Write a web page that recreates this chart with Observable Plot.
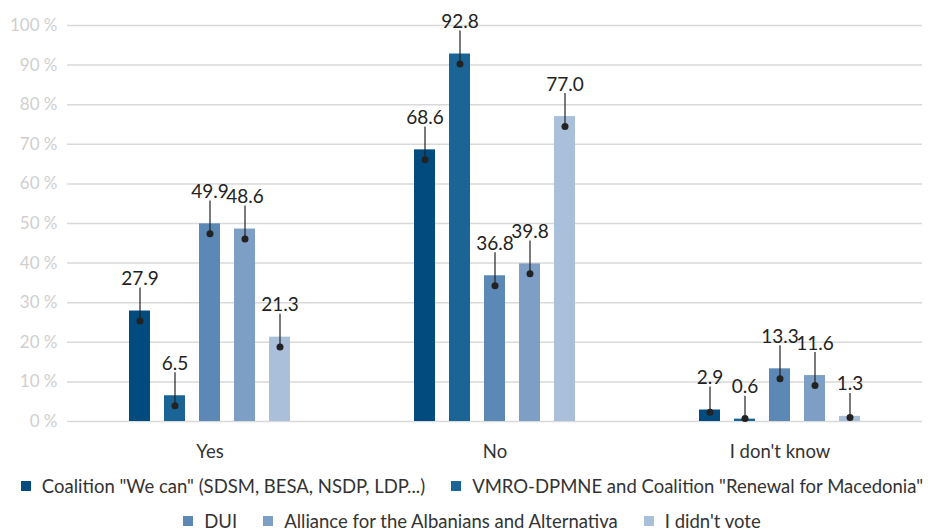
<!DOCTYPE html>
<html>
<head>
<meta charset="utf-8">
<script src="https://cdn.jsdelivr.net/npm/d3@7"></script>
<script src="https://cdn.jsdelivr.net/npm/@observablehq/plot@0.6"></script>
<style>
  html, body { margin: 0; padding: 0; background: #fff; }
  body { width: 944px; font-family: Lato, "Open Sans", sans-serif; }
  #legend { width: 944px; font-family: Lato, sans-serif; font-size: 18.5px; color: #333; }
  .row { display: flex; justify-content: center; align-items: center; height: 35px; }
  .item { display: flex; align-items: center; margin: 0 13px; white-space: nowrap; }
  .sw { width: 10px; height: 10px; margin-right: 11px; }
</style>
</head>
<body>
<div id="chart"></div>
<div id="legend"></div>
<script>
const categories = ["Yes", "No", "I don't know"];
const seriesNames = [
  "Coalition \"We can\" (SDSM, BESA, NSDP, LDP...)",
  "VMRO-DPMNE and Coalition \"Renewal for Macedonia\"",
  "DUI",
  "Alliance for the Albanians and Alternativa",
  "I didn't vote"
];
const yesValues = [27.9, 6.5, 49.9, 48.6, 21.3];
const noValues = [68.6, 92.8, 36.8, 39.8, 77.0];
const dontKnowValues = [2.9, 0.6, 13.3, 11.6, 1.3];
const colors = ["#024b7e", "#1b6596", "#5b88b4", "#7e9fc5", "#a9bfda"];
const yTicks = [0, 10, 20, 30, 40, 50, 60, 70, 80, 90, 100];
const legendRows = [[0, 1], [2, 3, 4]];

const valuesByCat = [yesValues, noValues, dontKnowValues];
const data = [];
categories.forEach((cat, i) => {
  valuesByCat[i].forEach((v, j) => {
    data.push({
      cat, series: seriesNames[j], value: v,
      dot: v > 4 ? v - 2.5 : Math.max(v * 0.8, 0.75),
      top: v + 5.8
    });
  });
});

const chart = Plot.plot({
  width: 944,
  height: 468,
  marginTop: 25,
  marginBottom: 47,
  marginLeft: 66,
  marginRight: 22,
  style: { fontFamily: "Lato, sans-serif", background: "#fff" },
  y: { domain: [0, 100] },
  fx: { domain: categories, padding: 0 },
  x: { domain: seriesNames, axis: null, paddingInner: 0.389, paddingOuter: 1.653 },
  color: { domain: seriesNames, range: colors },
  marks: [
    Plot.ruleY(yTicks, { stroke: "#d9d9d9", strokeWidth: 1.5 }),
    Plot.axisY({ ticks: yTicks, tickFormat: d => d + " %", tickSize: 0, tickPadding: 10, fontSize: 17, fill: "#cfcfcf", label: null }),
    Plot.axisFx({ anchor: "bottom", tickSize: 0, tickPadding: 23, fontSize: 18.5, fill: "#333", label: null }),
    Plot.barY(data, { fx: "cat", x: "series", y: "value", fill: "series" }),
    Plot.ruleX(data, { fx: "cat", x: "series", y1: "dot", y2: "top", stroke: "#222", strokeWidth: 1.2 }),
    Plot.dot(data, { fx: "cat", x: "series", y: "dot", r: 3.5, fill: "#222", stroke: null }),
    Plot.text(data, { fx: "cat", x: "series", y: "value", text: d => d.value.toFixed(1), dy: -26, lineAnchor: "bottom", fontSize: 19, fill: "#222" })
  ]
});
document.getElementById("chart").appendChild(chart);

const legend = document.getElementById("legend");
legendRows.forEach(row => {
  const r = document.createElement("div");
  r.className = "row";
  row.forEach(j => {
    const it = document.createElement("div");
    it.className = "item";
    const sw = document.createElement("span");
    sw.className = "sw";
    sw.style.background = colors[j];
    const tx = document.createElement("span");
    tx.textContent = seriesNames[j];
    it.appendChild(sw);
    it.appendChild(tx);
    r.appendChild(it);
  });
  legend.appendChild(r);
});
</script>
</body>
</html>
